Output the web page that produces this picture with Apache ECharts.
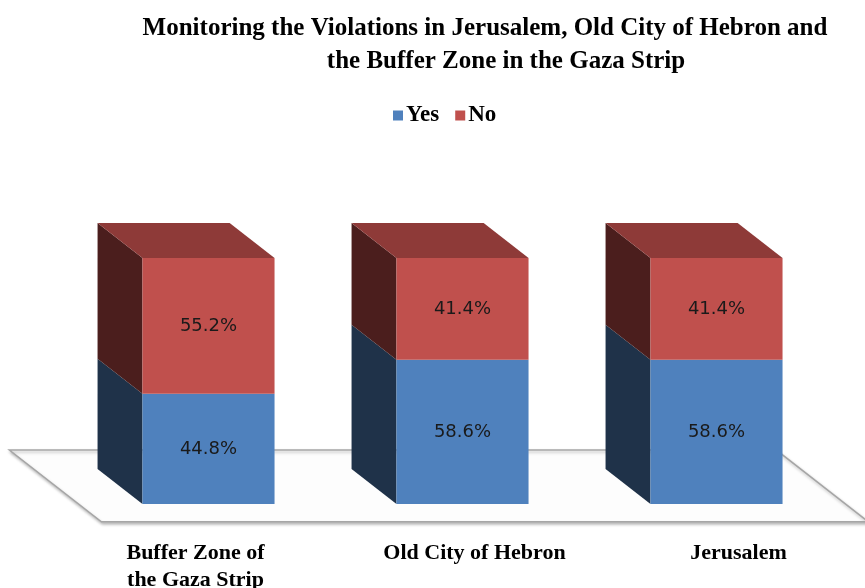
<!DOCTYPE html>
<html>
<head>
<meta charset="utf-8">
<title>Monitoring the Violations</title>
<script src="https://cdn.jsdelivr.net/npm/echarts@6/dist/echarts.min.js"></script>
<style>
  html, body { margin: 0; padding: 0; background: #fff; }
  #chart { width: 865px; height: 588px; }
</style>
</head>
<body>
<div id="chart"></div>
<script>
const categories = ['Buffer Zone of\nthe Gaza Strip', 'Old City of Hebron', 'Jerusalem'];
const yesValues = [44.8, 58.6, 58.6];
const noValues = [55.2, 41.4, 41.4];

const palette = {
  yes: { front: '#4f81bd', side: '#1f3249', top: '#3a5f8c' },
  no: { front: '#c0504d', side: '#4b1e1d', top: '#8e3a38' }
};

// box depth as a part of the bar width
const DEPTH_X = 0.34;
const DEPTH_Y = 0.265;
const BAR_RATIO = 0.52;

// category labels sit a bit off the bar centres in the original
const labelShift = [-13, 12, 22];

const yesData = yesValues.map((v, i) => [i, 0, v, v]);
const noData = noValues.map((v, i) => [i, yesValues[i], yesValues[i] + v, v]);

function boxRenderer(colors, drawTop) {
  return function (params, api) {
    const idx = api.value(0);
    const lo = api.coord([idx, api.value(1)]);
    const hi = api.coord([idx, api.value(2)]);
    const w = api.size([1, 0])[0] * BAR_RATIO;
    const x0 = lo[0] - w / 2;
    const x1 = lo[0] + w / 2;
    const yb = lo[1];
    const yt = hi[1];
    const dx = w * DEPTH_X;
    const dy = w * DEPTH_Y;
    const children = [
      {
        type: 'polygon',
        shape: { points: [[x0, yb], [x0, yt], [x0 - dx, yt - dy], [x0 - dx, yb - dy]] },
        style: { fill: colors.side }
      },
      {
        type: 'rect',
        shape: { x: x0, y: yt, width: w, height: yb - yt },
        style: { fill: colors.front }
      }
    ];
    if (drawTop) {
      children.push({
        type: 'polygon',
        shape: { points: [[x0, yt], [x1, yt], [x1 - dx, yt - dy], [x0 - dx, yt - dy]] },
        style: { fill: colors.top }
      });
    }
    children.push({
      type: 'text',
      style: {
        x: lo[0],
        y: (yb + yt) / 2,
        text: api.value(3).toFixed(1) + '%',
        fill: '#1a1a1a',
        font: '18px "DejaVu Sans", sans-serif',
        align: 'center',
        verticalAlign: 'middle'
      }
    });
    return { type: 'group', children: children };
  };
}

function floorRenderer(params, api) {
  const cs = params.coordSys;
  const w = api.size([1, 0])[0] * BAR_RATIO;
  const dx = w * DEPTH_X;
  const dy = w * DEPTH_Y;
  const yb = cs.y + cs.height;
  const L = cs.x - 3;
  const R = cs.x + cs.width + 2;
  const f = 0.51, b = 1.54;
  return {
    type: 'polygon',
    shape: {
      points: [
        [L + f * dx, yb + f * dy],
        [R + f * dx, yb + f * dy],
        [R - b * dx, yb - b * dy],
        [L - b * dx, yb - b * dy]
      ]
    },
    style: {
      fill: '#fdfdfd',
      stroke: '#a6a6a6',
      lineWidth: 1.5,
      shadowBlur: 3,
      shadowColor: 'rgba(0,0,0,0.25)',
      shadowOffsetX: 1,
      shadowOffsetY: 2
    }
  };
}

const chart = echarts.init(document.getElementById('chart'));
const serif = '"Liberation Serif", "Times New Roman", serif';

const labelRich = {};
labelShift.forEach((s, i) => {
  labelRich['c' + i] = {
    fontFamily: serif,
    fontWeight: 'bold',
    fontSize: 22,
    lineHeight: 27,
    color: '#000',
    padding: s >= 0 ? [0, 0, 0, 2 * s] : [0, -2 * s, 0, 0]
  };
});

chart.setOption({
  backgroundColor: '#fff',
  animation: false,
  title: [
    {
      text: 'Monitoring the Violations in Jerusalem, Old City of Hebron and',
      left: 480,
      top: 11,
      textAlign: 'center',
      textStyle: { fontFamily: serif, fontWeight: 'bold', fontSize: 25, color: '#000' }
    },
    {
      text: 'the Buffer Zone in the Gaza Strip',
      left: 501,
      top: 44,
      textAlign: 'center',
      textStyle: { fontFamily: serif, fontWeight: 'bold', fontSize: 25, color: '#000' }
    }
  ],
  legend: {
    data: ['Yes', 'No'],
    left: 388,
    top: 99,
    icon: 'rect',
    itemWidth: 10,
    itemHeight: 10,
    itemGap: 16,
    textStyle: { fontFamily: serif, fontWeight: 'bold', fontSize: 23, color: '#000', padding: [0, 0, 0, -2] }
  },
  grid: { left: 81.5, right: 21.5, top: 258, bottom: 84, outerBoundsMode: 'none' },
  xAxis: {
    type: 'category',
    data: categories,
    axisLine: { show: false },
    axisTick: { show: false },
    axisLabel: {
      margin: 36,
      formatter: function (value, index) {
        return value.split('\n').map(line => '{c' + index + '|' + line + '}').join('\n');
      },
      rich: labelRich
    }
  },
  yAxis: {
    type: 'value',
    min: 0,
    max: 100,
    show: false
  },
  series: [
    {
      type: 'custom',
      name: 'floor',
      renderItem: floorRenderer,
      data: [[0, 0]],
      encode: { x: 0, y: 1 },
      z: 1,
      silent: true
    },
    {
      type: 'custom',
      name: 'Yes',
      renderItem: boxRenderer(palette.yes, false),
      data: yesData,
      encode: { x: 0, y: [1, 2] },
      itemStyle: { color: palette.yes.front },
      z: 2
    },
    {
      type: 'custom',
      name: 'No',
      renderItem: boxRenderer(palette.no, true),
      data: noData,
      encode: { x: 0, y: [1, 2] },
      itemStyle: { color: palette.no.front },
      z: 2
    }
  ]
});
</script>
</body>
</html>
